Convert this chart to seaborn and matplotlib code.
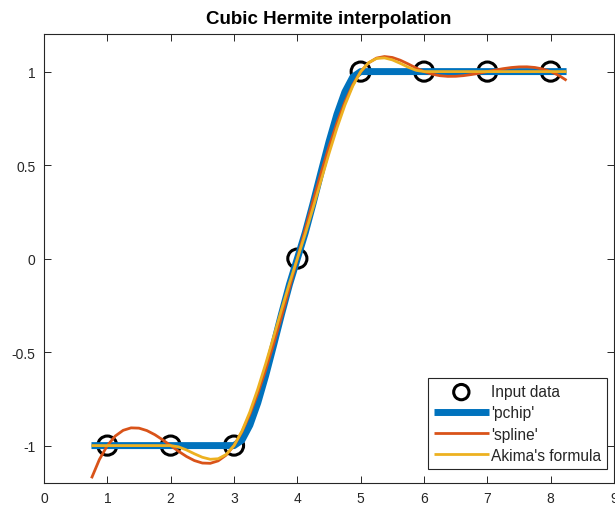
import numpy as np
import pandas as pd
import matplotlib
matplotlib.use("Agg")
import matplotlib.pyplot as plt
import seaborn as sns

# Input data
x_data = [1, 2, 3, 4, 5, 6, 7, 8]
y_data = [-1, -1, -1, 0, 1, 1, 1, 1]

# Query points (0.75 to 8.25, step 0.125)
xq = [0.75 + 0.125 * i for i in range(61)]

# 'pchip' curve values
y_pchip = ([-1.0] * 19 +
           [-0.9707, -0.8906, -0.7715, -0.625, -0.4629, -0.2969, -0.1387, 0.0,
            0.1387, 0.2969, 0.4629, 0.625, 0.7715, 0.8906, 0.9707] +
           [1.0] * 27)

# 'spline' curve values
y_spline = [-1.1749, -1.0743,
            -1.0, -0.9490, -0.9184, -0.9052, -0.9067, -0.9198, -0.9417, -0.9694,
            -1.0, -1.0306, -1.0583, -1.0802, -1.0933, -1.0948, -1.0816, -1.0510,
            -1.0, -0.9266, -0.8328, -0.7213, -0.5951, -0.4570, -0.3099, -0.1566,
            0.0, 0.1570, 0.3112, 0.4595, 0.5987, 0.7255, 0.8368, 0.9294,
            1.0, 1.0467, 1.0722, 1.0805, 1.0754, 1.0608, 1.0408, 1.0192,
            1.0, 0.9863, 0.9780, 0.9745, 0.9749, 0.9784, 0.9843, 0.9918,
            1.0, 1.0082, 1.0157, 1.0216, 1.0251, 1.0255, 1.0220, 1.0137,
            1.0, 0.9800, 0.9529]

# Akima's formula curve values
y_akima = ([-1.0] * 11 +
           [-1.0068, -1.0234, -1.0439, -1.0625, -1.0732, -1.0703, -1.0479,
            -1.0, -0.9229, -0.8203, -0.6982, -0.5625, -0.4189, -0.2734, -0.1318,
            0.0, 0.1318, 0.2734, 0.4189, 0.5625, 0.6982, 0.8203, 0.9229,
            1.0, 1.0479, 1.0703, 1.0732, 1.0625, 1.0439, 1.0234, 1.0068] +
           [1.0] * 19)

legend_labels = ["Input data", "'pchip'", "'spline'", "Akima's formula"]
title_text = "Cubic Hermite interpolation"
x_ticks = [0, 1, 2, 3, 4, 5, 6, 7, 8, 9]
y_ticks = [-1, -0.5, 0, 0.5, 1]
y_tick_labels = ["-1", "-0.5", "0", "0.5", "1"]

sns.set_theme(style="white")
plt.rcParams["font.family"] = ["Liberation Sans", "DejaVu Sans"]

fig = plt.figure(figsize=(6.15, 5.1), dpi=100)
ax = fig.add_axes([0.0715, 0.051, 0.927, 0.880])

df_pts = pd.DataFrame({"x": x_data, "y": y_data})
df_curves = pd.DataFrame({"x": xq, "pchip": y_pchip, "spline": y_spline, "akima": y_akima})

sns.scatterplot(data=df_pts, x="x", y="y", ax=ax, marker="o", s=190,
                facecolors="none", edgecolor="black", linewidth=2.2,
                label=legend_labels[0], zorder=2)
sns.lineplot(data=df_curves, x="x", y="pchip", ax=ax, color="#0072BD",
             linewidth=5.0, sort=False, estimator=None, label=legend_labels[1],
             zorder=3, solid_capstyle="butt")
sns.lineplot(data=df_curves, x="x", y="spline", ax=ax, color="#D95319",
             linewidth=2.0, sort=False, estimator=None, label=legend_labels[2],
             zorder=4, solid_capstyle="butt")
sns.lineplot(data=df_curves, x="x", y="akima", ax=ax, color="#EDB120",
             linewidth=2.0, sort=False, estimator=None, label=legend_labels[3],
             zorder=5, solid_capstyle="butt")

ax.set_xlim(0, 9)
ax.set_ylim(-1.2, 1.2)
ax.set_xticks(x_ticks)
ax.set_yticks(y_ticks)
ax.set_yticklabels(y_tick_labels)
ax.set_xlabel("")
ax.set_ylabel("")
ax.set_title(title_text, fontsize=13.5, fontweight="bold", color="black", pad=8)

for sp in ax.spines.values():
    sp.set_color("#262626")
    sp.set_linewidth(0.8)
ax.tick_params(direction="in", length=5, width=0.7, color="#262626",
               labelsize=10, labelcolor="#262626", top=True, right=True,
               bottom=True, left=True, pad=6)

leg = ax.legend(loc="lower right", bbox_to_anchor=(0.988, 0.031), fontsize=11.2,
                frameon=True, fancybox=False, edgecolor="#262626", framealpha=1,
                handlelength=3.5, borderpad=0.4, labelspacing=0.4,
                handletextpad=0.15, borderaxespad=0.0, markerscale=0.8)
leg.get_frame().set_linewidth(0.8)
for h in leg.get_lines():
    h.set_solid_capstyle("butt")

fig.savefig("out.png", dpi=100)
